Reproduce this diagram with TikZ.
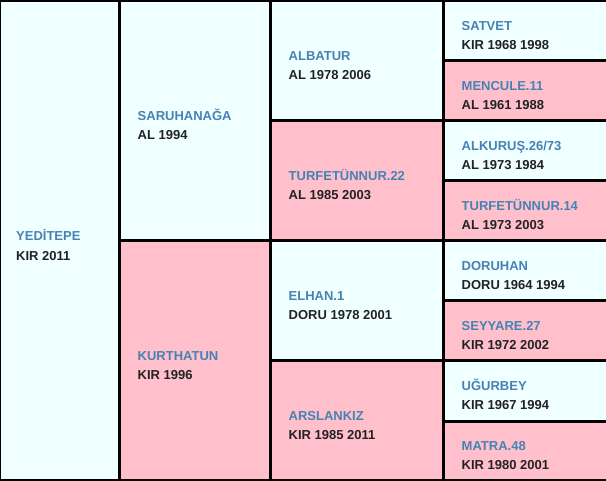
\documentclass[tikz,border=0pt]{standalone}
\usepackage{fontspec}
\setmainfont{Liberation Sans}
\definecolor{cellazure}{HTML}{F0FFFF}
\definecolor{cellpink}{HTML}{FFC0CB}
\definecolor{namecol}{HTML}{4682B4}
\definecolor{infocol}{HTML}{222222}
\tikzset{
  namelbl/.style={anchor=base west, inner sep=0pt, text=namecol, font=\fontsize{13}{15}\selectfont\bfseries},
  infolbl/.style={anchor=base west, inner sep=0pt, text=infocol, font=\fontsize{13}{15}\selectfont\bfseries},
  gridline/.style={draw=black, line width=3pt}
}
\begin{document}
\begin{tikzpicture}[x=1pt,y=-1pt]
\useasboundingbox (0,0) rectangle (606,480);
\clip (0,0) rectangle (606,480);
% cell fills
\fill[cellazure] (0,0) rectangle (119.8,480);
\fill[cellazure] (119.8,0) rectangle (270.8,240);
\fill[cellpink] (119.8,240) rectangle (270.8,480);
\foreach \i/\c in {0/cellazure,1/cellpink,2/cellazure,3/cellpink}
  \fill[\c] (270.8,{\i*120}) rectangle (443.2,{\i*120+120});
\foreach \i/\c in {0/cellazure,1/cellpink,2/cellazure,3/cellpink,4/cellazure,5/cellpink,6/cellazure,7/cellpink}
  \fill[\c] (443.2,{\i*60}) rectangle (620,{\i*60+60});
% grid lines
\draw[gridline] (-0.5,0.5) rectangle (620,480.5);
\draw[gridline] (119.8,0) -- (119.8,480);
\draw[gridline] (270.8,0) -- (270.8,480);
\draw[gridline] (443.2,0) -- (443.2,480);
\draw[gridline] (119.8,240) -- (620,240);
\draw[gridline] (270.8,120) -- (620,120);
\draw[gridline] (270.8,360.5) -- (620,360.5);
\foreach \y in {60.5,180,300,421}
  \draw[gridline] (443.2,\y) -- (620,\y);
% texts
\node[namelbl] (n1) at (16,240.7) {YEDİTEPE};
\node[infolbl] (i1) at (16,260) {KIR 2011};
\node[namelbl] (n2) at (137.5,120.7) {SARUHANAĞA};
\node[infolbl] (i2) at (137.5,139.5) {AL 1994};
\node[namelbl] (n3) at (137.5,360.7) {KURTHATUN};
\node[infolbl] (i3) at (137.5,379.5) {KIR 1996};
\node[namelbl] (n4) at (288.5,60.7) {ALBATUR};
\node[infolbl] (i4) at (288.5,79.5) {AL 1978 2006};
\node[namelbl] (n5) at (288.5,180.7) {TURFETÜNNUR.22};
\node[infolbl] (i5) at (288.5,199.5) {AL 1985 2003};
\node[namelbl] (n6) at (288.5,300.7) {ELHAN.1};
\node[infolbl] (i6) at (288.5,319.5) {DORU 1978 2001};
\node[namelbl] (n7) at (288.5,420.7) {ARSLANKIZ};
\node[infolbl] (i7) at (288.5,439.5) {KIR 1985 2011};
\node[namelbl] (n8) at (461.5,30.7) {SATVET};
\node[infolbl] (i8) at (461.5,49.5) {KIR 1968 1998};
\node[namelbl] (n9) at (461.5,90.7) {MENCULE.11};
\node[infolbl] (i9) at (461.5,109.5) {AL 1961 1988};
\node[namelbl] (n10) at (461.5,150.7) {ALKURUŞ.26/73};
\node[infolbl] (i10) at (461.5,169.5) {AL 1973 1984};
\node[namelbl] (n11) at (461.5,210.7) {TURFETÜNNUR.14};
\node[infolbl] (i11) at (461.5,229.5) {AL 1973 2003};
\node[namelbl] (n12) at (461.5,270.7) {DORUHAN};
\node[infolbl] (i12) at (461.5,289.5) {DORU 1964 1994};
\node[namelbl] (n13) at (461.5,330.7) {SEYYARE.27};
\node[infolbl] (i13) at (461.5,349.5) {KIR 1972 2002};
\node[namelbl] (n14) at (461.5,390.7) {UĞURBEY};
\node[infolbl] (i14) at (461.5,409.5) {KIR 1967 1994};
\node[namelbl] (n15) at (461.5,450.7) {MATRA.48};
\node[infolbl] (i15) at (461.5,469.5) {KIR 1980 2001};
\end{tikzpicture}
\end{document}
